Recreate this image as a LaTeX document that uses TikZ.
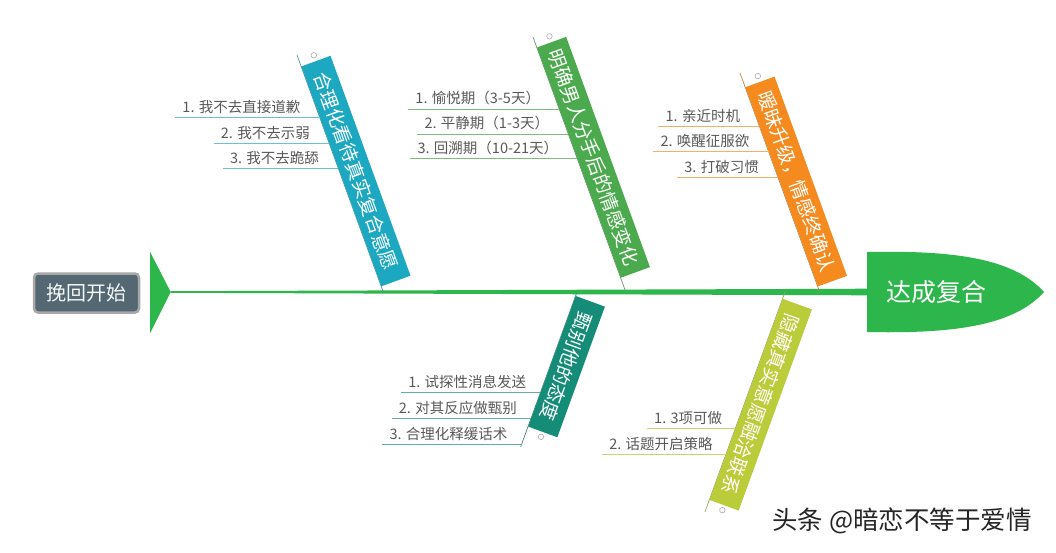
\documentclass[tikz,border=0pt]{standalone}
\usepackage{fontspec}
\setmainfont{Noto Sans CJK SC}
\usetikzlibrary{calc}
\definecolor{cA}{HTML}{1DA8C2}
\definecolor{cB}{HTML}{4CAA4E}
\definecolor{cC}{HTML}{F58B1F}
\definecolor{cD}{HTML}{148C78}
\definecolor{cE}{HTML}{BACC3A}
\definecolor{cG}{HTML}{2DB64B}
\definecolor{lA}{HTML}{6CC0D0}
\definecolor{lB}{HTML}{80BC80}
\definecolor{lC}{HTML}{F3B068}
\definecolor{lD}{HTML}{60AFA3}
\definecolor{lE}{HTML}{C8D470}
\definecolor{txt}{HTML}{595959}
\definecolor{startfill}{HTML}{536873}
\definecolor{startdraw}{HTML}{A8A8A8}
\begin{document}
\begin{tikzpicture}[x=1pt,y=-1pt,
  bar/.style={inner sep=0pt, minimum height=31pt, text=white,
    font=\fontsize{19pt}{19pt}\selectfont, anchor=south west},
  item/.style={inner xsep=7pt, inner ysep=0pt, anchor=south east, text=txt,
    font=\fontsize{14.5pt}{14.5pt}\selectfont},
  knob/.style={circle, draw=gray!65, fill=white, line width=0.6pt,
    inner sep=0pt, minimum size=5.5pt},
  rib/.style={line width=0.7pt},
  itemline/.style={line width=1pt}]
\fill[white] (0,0) rectangle (1056,552);
\useasboundingbox (0,0) rectangle (1056,552);

% start node and left triangle
\node[draw=startdraw, line width=2.5pt, fill=startfill, rounded corners=4pt,
  minimum width=105pt, minimum height=39pt, inner sep=0pt, text=white!92!gray,
  font=\fontsize{20pt}{20pt}\selectfont] (start) at (86.5,293) {挽回开始};
\coordinate (tip) at (170.7,292);
\fill[cG] (150,251.7) -- (tip) -- (150,333.3) -- cycle;

% goal shape
\coordinate (goalw) at (867,292);
\fill[cG] (867,252) .. controls (960,250) and (1015,260) .. (1044,292)
  .. controls (1015,324) and (960,334) .. (867,332) -- cycle;
\node[text=white, font=\fontsize{25pt}{25pt}\selectfont] (goal) at (936,292) {达成复合};

% spine
\fill[cG] ($(tip)+(0,-0.8)$) -- ($(goalw)+(0,-3.3)$) -- ($(goalw)+(0,3.3)$) -- ($(tip)+(0,0.8)$) -- cycle;

% ---------- branch 1 ----------
\coordinate (b1t) at (297,55);
\coordinate (b1s) at (383.3,292);
\draw[rib, draw=cA!45!gray] (b1t) -- (b1s);
\node[bar, rotate=-70, fill=cA, minimum width=234pt] (bar1) at ($(b1t)!12pt!(b1s)$) {合理化看待真实复合意愿};
\node[knob] (k1) at ($(bar1.west)!-6pt!(bar1.east)$) {};
\coordinate (b1i1) at ($(b1t)!0.2616!(b1s)$);
\coordinate (b1i2) at ($(b1t)!0.3713!(b1s)$);
\coordinate (b1i3) at ($(b1t)!0.4768!(b1s)$);
\node[item] (t11) at ($(b1i1)+(-12,-3.5)$) {1. 我不去直接道歉};
\node[item] (t12) at ($(b1i2)+(-12,-3.5)$) {2. 我不去示弱};
\node[item] (t13) at ($(b1i3)+(-12,-3.5)$) {3. 我不去跪舔};
\draw[itemline, lA] (t11.south west |- b1i1) -- (b1i1);
\draw[itemline, lA] (t12.south west |- b1i2) -- (b1i2);
\draw[itemline, lA] (t13.south west |- b1i3) -- (b1i3);

% ---------- branch 2 ----------
\coordinate (b2t) at (533,37);
\coordinate (b2s) at (625.8,292);
\draw[rib, draw=cB!45!gray] (b2t) -- (b2s);
\node[bar, rotate=-70, fill=cB, minimum width=245pt] (bar2) at ($(b2t)!11pt!(b2s)$) {明确男人分手后的情感变化};
\node[knob] (k2) at ($(bar2.west)!-6pt!(bar2.east)$) {};
\coordinate (b2i1) at ($(b2t)!0.2824!(b2s)$);
\coordinate (b2i2) at ($(b2t)!0.3804!(b2s)$);
\coordinate (b2i3) at ($(b2t)!0.4784!(b2s)$);
\node[item] (t21) at ($(b2i1)+(-12,-3.5)$) {1. 愉悦期（3-5天）};
\node[item] (t22) at ($(b2i2)+(-12,-3.5)$) {2. 平静期（1-3天）};
\node[item] (t23) at ($(b2i3)+(-12,-3.5)$) {3. 回溯期（10-21天）};
\draw[itemline, lB] (t21.south west |- b2i1) -- (b2i1);
\draw[itemline, lB] (t22.south west |- b2i2) -- (b2i2);
\draw[itemline, lB] (t23.south west |- b2i3) -- (b2i3);

% ---------- branch 3 ----------
\coordinate (b3t) at (740,73);
\coordinate (b3s) at (819.7,292);
\draw[rib, draw=cC!45!gray] (b3t) -- (b3s);
\node[bar, rotate=-70, fill=cC, minimum width=212pt] (bar3) at ($(b3t)!15pt!(b3s)$) {暧昧升级，情感终确认};
\node[knob] (k3) at ($(bar3.west)!-6pt!(bar3.east)$) {};
\coordinate (b3i1) at ($(b3t)!0.2420!(b3s)$);
\coordinate (b3i2) at ($(b3t)!0.3594!(b3s)$);
\coordinate (b3i3) at ($(b3t)!0.4763!(b3s)$);
\node[item] (t31) at ($(b3i1)+(-12,-3.5)$) {1. 亲近时机};
\node[item] (t32) at ($(b3i2)+(-12,-3.5)$) {2. 唤醒征服欲};
\node[item] (t33) at ($(b3i3)+(-12,-3.5)$) {3. 打破习惯};
\draw[itemline, lC] (t31.south west |- b3i1) -- (b3i1);
\draw[itemline, lC] (t32.south west |- b3i2) -- (b3i2);
\draw[itemline, lC] (t33.south west |- b3i3) -- (b3i3);

% ---------- branch 4 (below) ----------
\coordinate (b4s) at (577,292);
\coordinate (b4e) at (520.6,447);
\draw[rib, draw=cD!45!gray] (b4s) -- (b4e);
\node[bar, rotate=-110, fill=cD, minimum width=139pt] (bar4) at ($(b4s)!4pt!(b4e)$) {甄别他的态度};
\node[knob] (k4) at ($(bar4.east)!-5pt!(bar4.west)$) {};
\coordinate (b4i1) at ($(b4s)!0.6497!(b4e)$);
\coordinate (b4i2) at ($(b4s)!0.8148!(b4e)$);
\coordinate (b4i3) at ($(b4s)!0.9806!(b4e)$);
\node[item] (t41) at ($(b4i1)+(-7,-3.5)$) {1. 试探性消息发送};
\node[item] (t42) at ($(b4i2)+(-7,-3.5)$) {2. 对其反应做甄别};
\node[item] (t43) at ($(b4i3)+(-7,-3.5)$) {3. 合理化释缓话术};
\draw[itemline, lD] (t41.south west |- b4i1) -- (b4i1);
\draw[itemline, lD] (t42.south west |- b4i2) -- (b4i2);
\draw[itemline, lD] (t43.south west |- b4i3) -- (b4i3);

% ---------- branch 5 (below) ----------
\coordinate (b5s) at (785,292);
\coordinate (b5e) at (704.9,512);
\draw[rib, draw=cE!45!gray] (b5s) -- (b5e);
\node[bar, rotate=-110, fill=cE, minimum width=214pt] (bar5) at ($(b5s)!7pt!(b5e)$) {隐藏真实意愿融洽联系};
\node[knob] (k5) at ($(bar5.east)!-5pt!(bar5.west)$) {};
\coordinate (b5i1) at ($(b5s)!0.6195!(b5e)$);
\coordinate (b5i2) at ($(b5s)!0.7377!(b5e)$);
\node[item] (t51) at ($(b5i1)+(-6,-3.5)$) {1. 3项可做};
\node[item] (t52) at ($(b5i2)+(-6,-3.5)$) {2. 话题开启策略};
\draw[itemline, lE] (t51.south west |- b5i1) -- (b5i1);
\draw[itemline, lE] (t52.south west |- b5i2) -- (b5i2);

% watermark
\node[text=black!85, font=\fontsize{25.5pt}{25.5pt}\selectfont] (wm) at (902,521) {头条 @暗恋不等于爱情};
\end{tikzpicture}
\end{document}
